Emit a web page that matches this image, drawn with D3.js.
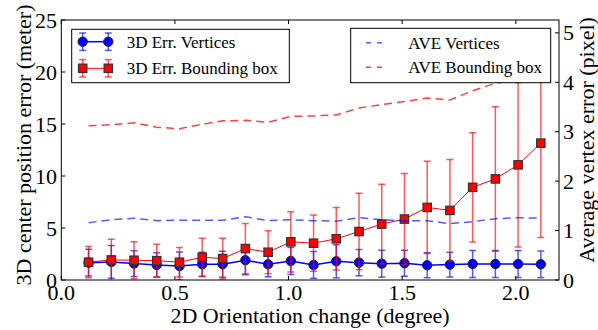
<!DOCTYPE html>
<html>
<head>
<meta charset="utf-8">
<script src="https://cdn.jsdelivr.net/npm/d3@7"></script>
<style>
  body { margin: 0; background: #fff; }
  text { font-family: "Liberation Serif", "DejaVu Serif", serif; fill: #000; }
</style>
</head>
<body>
<figure id="chart" style="margin:0"></figure>
<script>
// orientation change (degree) for every bin
const orientation = [0.12, 0.22, 0.32, 0.42, 0.52, 0.62, 0.71, 0.81, 0.91, 1.01, 1.11,
  1.21, 1.31, 1.41, 1.51, 1.61, 1.71, 1.81, 1.91, 2.01, 2.11];

// 3D center position error (meter), left axis
const errVertices = [1.67, 1.74, 1.58, 1.45, 1.35, 1.51, 1.51, 1.90, 1.51, 1.83, 1.45,
  1.80, 1.67, 1.57, 1.61, 1.42, 1.48, 1.54, 1.54, 1.54, 1.51];
const sdVertices = [1.29, 1.58, 1.24, 1.17, 1.35, 1.17, 1.25, 1.4, 1.2, 1.3, 1.29,
  1.6, 1.27, 1.3, 1.25, 1.2, 1.2, 1.3, 1.3, 1.3, 1.28];
const errBox = [1.71, 1.93, 1.90, 1.86, 1.71, 2.19, 2.06, 3.02, 2.67, 3.67, 3.54,
  3.96, 4.66, 5.38, 5.86, 6.98, 6.69, 8.91, 9.72, 11.07, 13.16];
const sdBox = [1.5, 2.0, 1.77, 1.58, 1.41, 1.83, 1.96, 2.41, 2.06, 2.9, 2.7,
  3.0, 3.67, 3.82, 4.37, 4.44, 4.89, 5.25, 6.95, 7.9, 9.07];

// average vertex error (pixel), right axis
const aveVertices = [1.16, 1.22, 1.25, 1.20, 1.21, 1.21, 1.21, 1.28, 1.20, 1.22, 1.20,
  1.19, 1.26, 1.22, 1.20, 1.20, 1.14, 1.18, 1.24, 1.26, 1.25];
const aveBox = [3.12, 3.14, 3.18, 3.09, 3.06, 3.15, 3.22, 3.23, 3.19, 3.31, 3.32,
  3.34, 3.48, 3.55, 3.61, 3.68, 3.64, 3.83, 3.98, 4.05, 4.15];

const xTicks = [0.0, 0.5, 1.0, 1.5, 2.0];
const yLeftTicks = [0, 5, 10, 15, 20, 25];
const yRightTicks = [0, 1, 2, 3, 4, 5];

const width = 598, height = 330;
const mLeft = 61.3, mRight = 559, mTop = 20, mBottom = 280;

const svg = d3.select("#chart").append("svg")
  .attr("width", width).attr("height", height);

svg.append("defs").append("clipPath").attr("id", "clip")
  .append("rect").attr("x", mLeft).attr("y", mTop)
  .attr("width", mRight - mLeft).attr("height", mBottom - mTop);

const x = d3.scaleLinear().domain([0, 2.19]).range([mLeft, mRight]);
const yL = d3.scaleLinear().domain([0, 25]).range([mBottom, mTop]);
const yR = d3.scaleLinear().domain([0, 5.26]).range([mBottom, mTop]);

const plot = svg.append("g").attr("clip-path", "url(#clip)");

function drawErrorbar(vals, sds, color, lineWidth, marker) {
  const data = orientation.map((o, i) => ({ o, v: vals[i], s: sds[i] }));
  const g = plot.append("g");
  // vertical bars + caps
  const bars = g.selectAll(".bar").data(data).enter().append("g")
    .attr("stroke", color).attr("stroke-opacity", 0.65).attr("stroke-width", 1.5);
  bars.append("line")
    .attr("x1", d => x(d.o)).attr("x2", d => x(d.o))
    .attr("y1", d => yL(d.v - d.s)).attr("y2", d => yL(d.v + d.s));
  [-1, 1].forEach(sgn => {
    bars.append("line")
      .attr("x1", d => x(d.o) - 3.5).attr("x2", d => x(d.o) + 3.5)
      .attr("y1", d => yL(d.v + sgn * d.s)).attr("y2", d => yL(d.v + sgn * d.s));
  });
  // connecting line
  g.append("path").datum(data)
    .attr("fill", "none").attr("stroke", color).attr("stroke-width", lineWidth)
    .attr("d", d3.line().x(d => x(d.o)).y(d => yL(d.v)));
  // markers
  if (marker === "circle") {
    g.selectAll(".pt").data(data).enter().append("circle")
      .attr("cx", d => x(d.o)).attr("cy", d => yL(d.v)).attr("r", 4.7)
      .attr("fill", color).attr("stroke", "#222").attr("stroke-width", 1);
  } else {
    g.selectAll(".pt").data(data).enter().append("rect")
      .attr("x", d => x(d.o) - 4.2).attr("y", d => yL(d.v) - 4.2)
      .attr("width", 8.4).attr("height", 8.4)
      .attr("fill", color).attr("stroke", "#333").attr("stroke-width", 1.2);
  }
}

drawErrorbar(errVertices, sdVertices, "#0000ff", 1.5, "circle");
drawErrorbar(errBox, sdBox, "#ff0000", 1, "square");

// dashed averages on the right axis
const dashLine = d3.line().x((d, i) => x(orientation[i])).y(d => yR(d));
plot.append("path").datum(aveVertices)
  .attr("fill", "none").attr("stroke", "#0000ff").attr("stroke-opacity", 0.65)
  .attr("stroke-width", 1.5).attr("stroke-dasharray", "8,5").attr("d", dashLine);
plot.append("path").datum(aveBox)
  .attr("fill", "none").attr("stroke", "#ff0000").attr("stroke-opacity", 0.75)
  .attr("stroke-width", 1.5).attr("stroke-dasharray", "8,5").attr("d", dashLine);

// frame and inward ticks
svg.append("rect").attr("x", mLeft).attr("y", mTop)
  .attr("width", mRight - mLeft).attr("height", mBottom - mTop)
  .attr("fill", "none").attr("stroke", "#000").attr("stroke-width", 1);

const axisG = svg.append("g").attr("stroke", "#000").attr("stroke-width", 1);
xTicks.forEach(t => {
  axisG.append("line").attr("x1", x(t)).attr("x2", x(t)).attr("y1", mBottom).attr("y2", mBottom - 4);
  axisG.append("line").attr("x1", x(t)).attr("x2", x(t)).attr("y1", mTop).attr("y2", mTop + 4);
});
yLeftTicks.forEach(t => {
  axisG.append("line").attr("x1", mLeft).attr("x2", mLeft + 4).attr("y1", yL(t)).attr("y2", yL(t));
});
yRightTicks.forEach(t => {
  axisG.append("line").attr("x1", mRight).attr("x2", mRight - 4).attr("y1", yR(t)).attr("y2", yR(t));
});

const fs = 22;
svg.append("g").selectAll("text").data(xTicks).enter().append("text")
  .attr("x", d => x(d)).attr("y", 300).attr("text-anchor", "middle")
  .attr("font-size", fs).text(d => d.toFixed(1));
svg.append("g").selectAll("text").data(yLeftTicks).enter().append("text")
  .attr("x", 57).attr("y", d => yL(d) + 7.5).attr("text-anchor", "end")
  .attr("font-size", fs).text(d => d);
svg.append("g").selectAll("text").data(yRightTicks).enter().append("text")
  .attr("x", 563).attr("y", d => yR(d) + 7.5).attr("text-anchor", "start")
  .attr("font-size", fs).text(d => d);

svg.append("text").attr("x", 310).attr("y", 323).attr("text-anchor", "middle")
  .attr("font-size", fs).text("2D Orientation change (degree)");
svg.append("text").attr("transform", "translate(31,145) rotate(-90)")
  .attr("text-anchor", "middle").attr("font-size", fs)
  .text("3D center position error (meter)");
svg.append("text").attr("transform", "translate(594,140) rotate(-90)")
  .attr("text-anchor", "middle").attr("font-size", fs)
  .text("Average vertex error (pixel)");

// legend: error bars
const lfs = 17;
const leg1 = svg.append("g");
leg1.append("rect").attr("x", 71.7).attr("y", 29.3).attr("width", 217.6).attr("height", 53.4)
  .attr("fill", "#fff").attr("stroke", "#000").attr("stroke-width", 1);
const leg1Items = [
  { label: "3D Err. Vertices", color: "#0000ff", marker: "circle", y: 41.7 },
  { label: "3D Err. Bounding box", color: "#ff0000", marker: "square", y: 68.3 }
];
leg1Items.forEach(it => {
  const g = leg1.append("g");
  [82.7, 108.3].forEach(px => {
    g.append("line").attr("x1", px).attr("x2", px).attr("y1", it.y - 8.7).attr("y2", it.y + 8.7)
      .attr("stroke", it.color).attr("stroke-opacity", 0.65).attr("stroke-width", 1.5);
    [-8.7, 8.7].forEach(dy => g.append("line")
      .attr("x1", px - 3.5).attr("x2", px + 3.5).attr("y1", it.y + dy).attr("y2", it.y + dy)
      .attr("stroke", it.color).attr("stroke-opacity", 0.65).attr("stroke-width", 1.5));
  });
  g.append("line").attr("x1", 82.7).attr("x2", 108.3).attr("y1", it.y).attr("y2", it.y)
    .attr("stroke", it.color).attr("stroke-width", it.marker === "circle" ? 1.5 : 1);
  [82.7, 108.3].forEach(px => {
    if (it.marker === "circle") {
      g.append("circle").attr("cx", px).attr("cy", it.y).attr("r", 4.7)
        .attr("fill", it.color).attr("stroke", "#222");
    } else {
      g.append("rect").attr("x", px - 4.2).attr("y", it.y - 4.2).attr("width", 8.4).attr("height", 8.4)
        .attr("fill", it.color).attr("stroke", "#333").attr("stroke-width", 1.2);
    }
  });
  g.append("text").attr("x", 126.7).attr("y", it.y + 6).attr("font-size", lfs).text(it.label);
});

// legend: averages
const leg2 = svg.append("g");
leg2.append("rect").attr("x", 350.7).attr("y", 28.3).attr("width", 200).attr("height", 54.4)
  .attr("fill", "#fff").attr("stroke", "#000").attr("stroke-width", 1);
[
  { label: "AVE Vertices", color: "#0000ff", op: 0.65, y: 42.7 },
  { label: "AVE Bounding box", color: "#ff0000", op: 0.75, y: 67.3 }
].forEach(it => {
  leg2.append("line").attr("x1", 366).attr("x2", 382).attr("y1", it.y).attr("y2", it.y)
    .attr("stroke", it.color).attr("stroke-opacity", it.op).attr("stroke-width", 1.5)
    .attr("stroke-dasharray", "5,6");
  leg2.append("text").attr("x", 408.3).attr("y", it.y + 6).attr("font-size", lfs).text(it.label);
});
</script>
</body>
</html>
